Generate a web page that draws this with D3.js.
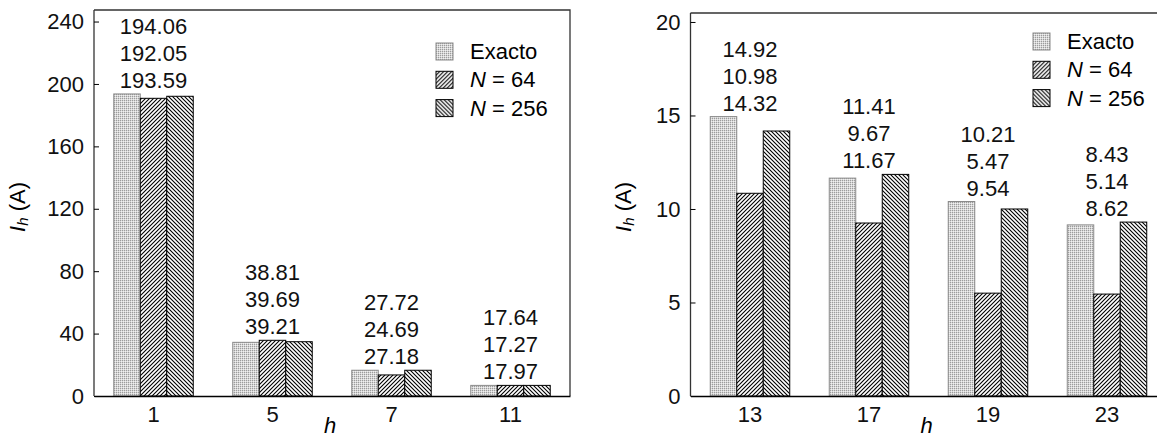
<!DOCTYPE html>
<html lang="en">
    <head>
        <meta charset="utf-8"/>
        <script src="https://d3js.org/d3.v7.min.js"></script>
        <style>
            body { margin: 0; background: #fff; }
            text { font-family: "Liberation Sans", Arial, sans-serif; }
        </style>
    </head>
    <body>
        <div id="chart"></div>
    </body>
    <script>
        // series names used by both panels
        var seriesNames = ["Exacto", "N = 64", "N = 256"];

        // left panel: low-order harmonics
        var harmonicsA = ["1", "5", "7", "11"];
        var exactoA = [193.6, 34.4, 16.5, 6.8];
        var n64A = [190.8, 35.7, 13.5, 6.8];
        var n256A = [192.1, 34.8, 16.5, 6.8];
        var labelsA = [
            ["194.06", "192.05", "193.59"],
            ["38.81", "39.69", "39.21"],
            ["27.72", "24.69", "27.18"],
            ["17.64", "17.27", "17.97"]
        ];
        var ticksA = [0, 40, 80, 120, 160, 200, 240];

        // right panel: higher harmonics
        var harmonicsB = ["13", "17", "19", "23"];
        var exactoB = [14.94, 11.65, 10.4, 9.15];
        var n64B = [10.84, 9.25, 5.5, 5.45];
        var n256B = [14.17, 11.85, 10.0, 9.3];
        var labelsB = [
            ["14.92", "10.98", "14.32"],
            ["11.41", "9.67", "11.67"],
            ["10.21", "5.47", "9.54"],
            ["8.43", "5.14", "8.62"]
        ];
        var ticksB = [0, 5, 10, 15, 20];

        var W = 1157, H = 439;
        var fontSize = 22;

        var svg = d3.select("#chart")
            .append("svg")
                .attr("width", W)
                .attr("height", H);

        // fill patterns
        var defs = svg.append("defs");

        var dots = defs.append("pattern")
            .attr("id", "pat0")
            .attr("patternUnits", "userSpaceOnUse")
            .attr("width", 2)
            .attr("height", 2);
        dots.append("rect").attr("width", 2).attr("height", 2).attr("fill", "#d6d6d6");
        dots.append("rect").attr("width", 1).attr("height", 1).attr("fill", "#9c9c9c");
        dots.append("rect").attr("x", 1).attr("y", 1).attr("width", 1).attr("height", 1).attr("fill", "#f0f0f0");

        var fwd = defs.append("pattern")
            .attr("id", "pat1")
            .attr("patternUnits", "userSpaceOnUse")
            .attr("width", 4)
            .attr("height", 4);
        fwd.append("rect").attr("width", 4).attr("height", 4).attr("fill", "#fff");
        fwd.append("path")
            .attr("d", "M-1,1 l2,-2 M0,4 l4,-4 M3,5 l2,-2")
            .attr("stroke", "#000")
            .attr("stroke-width", 1.1);

        var back = defs.append("pattern")
            .attr("id", "pat2")
            .attr("patternUnits", "userSpaceOnUse")
            .attr("width", 4)
            .attr("height", 4);
        back.append("rect").attr("width", 4).attr("height", 4).attr("fill", "#fff");
        back.append("path")
            .attr("d", "M-1,3 l2,2 M0,0 l4,4 M3,-1 l2,2")
            .attr("stroke", "#000")
            .attr("stroke-width", 1.1);

        var fills = ["url(#pat0)", "url(#pat1)", "url(#pat2)"];
        var strokes = ["#8a8a8a", "#000", "#000"];

        var panels = [
            { h: harmonicsA, vals: [exactoA, n64A, n256A], labels: labelsA, ticks: ticksA,
              left: 94, right: 570, top: 10, bottom: 396, yMax: 247.4,
              legendX: 436, legendY: 43, yLabelX: 17 },
            { h: harmonicsB, vals: [exactoB, n64B, n256B], labels: labelsB, ticks: ticksB,
              left: 690.5, right: 1166.5, top: 13, bottom: 396, yMax: 20.48,
              legendX: 1033, legendY: 33, yLabelX: 623 }
        ];

        panels.forEach(function (p) {
            var g = svg.append("g");

            var x = d3.scaleBand()
                .domain(p.h)
                .range([p.left, p.right])
                .paddingInner(0.332)
                .paddingOuter(0.166);

            var xs = d3.scaleBand()
                .domain(d3.range(seriesNames.length))
                .range([0, x.bandwidth()]);

            var y = d3.scaleLinear()
                .domain([0, p.yMax])
                .range([p.bottom, p.top]);

            // bars
            p.vals.forEach(function (vals, si) {
                g.selectAll(".bar" + si)
                    .data(vals)
                    .enter()
                    .append("rect")
                        .attr("x", function (d, i) { return x(p.h[i]) + xs(si); })
                        .attr("y", function (d) { return y(d); })
                        .attr("width", xs.bandwidth())
                        .attr("height", function (d) { return p.bottom - y(d); })
                        .attr("fill", fills[si])
                        .attr("stroke", strokes[si])
                        .attr("stroke-width", 1);
            });

            // value labels stacked above each group
            p.labels.forEach(function (lines, i) {
                var top = d3.min(p.vals, function (v) { return y(v[i]); });
                var t = g.append("text")
                    .attr("text-anchor", "middle")
                    .attr("font-size", fontSize)
                    .attr("fill", "#111");
                lines.forEach(function (s, k) {
                    t.append("tspan")
                        .attr("x", x(p.h[i]) + x.bandwidth() / 2)
                        .attr("y", top - 6 - (lines.length - 1 - k) * 27)
                        .text(s);
                });
            });

            // frame
            g.append("path")
                .attr("d", "M" + p.left + "," + p.top + "H" + p.right + "V" + p.bottom)
                .attr("fill", "none")
                .attr("stroke", "#333")
                .attr("stroke-width", 1.3);

            // axes
            var ya = g.append("g")
                .attr("transform", "translate(" + p.left + ",0)")
                .call(d3.axisLeft(y).tickValues(p.ticks).tickSizeInner(-5).tickSizeOuter(0).tickPadding(10));
            ya.select(".domain").attr("d", "M0," + p.top + "V" + p.bottom).attr("stroke", "#333").attr("stroke-width", 1.3);
            ya.selectAll("text").attr("font-size", fontSize).attr("font-family", "Liberation Sans, Arial, sans-serif").attr("fill", "#111");

            var xa = g.append("g")
                .attr("transform", "translate(0," + p.bottom + ")")
                .call(d3.axisBottom(x).tickSize(0).tickPadding(10));
            xa.select(".domain").attr("stroke", "#000").attr("stroke-width", 1.5);
            xa.selectAll("text").attr("font-size", fontSize).attr("font-family", "Liberation Sans, Arial, sans-serif").attr("fill", "#111");

            // axis titles
            g.append("text")
                .attr("x", (p.left + p.right) / 2 - 2)
                .attr("y", 433)
                .attr("text-anchor", "middle")
                .attr("font-size", fontSize)
                .attr("font-style", "italic")
                .text("h");

            var yl = g.append("text")
                .attr("transform", "translate(" + p.yLabelX + "," + 207 + ") rotate(-90)")
                .attr("text-anchor", "middle")
                .attr("dominant-baseline", "central")
                .attr("font-size", fontSize);
            yl.append("tspan").attr("font-style", "italic").text("I");
            yl.append("tspan").attr("font-style", "italic").attr("font-size", 15).attr("dy", 5).text("h");
            yl.append("tspan").attr("dy", -5).text(" (A)");

            // legend
            var lg = g.append("g")
                .attr("transform", "translate(" + p.legendX + "," + p.legendY + ")");
            seriesNames.forEach(function (name, si) {
                var row = lg.append("g").attr("transform", "translate(0," + si * 28.3 + ")");
                row.append("rect")
                    .attr("width", 17)
                    .attr("height", 17)
                    .attr("fill", fills[si])
                    .attr("stroke", strokes[si])
                    .attr("stroke-width", 1);
                var t = row.append("text")
                    .attr("x", 34)
                    .attr("y", 16)
                    .attr("font-size", fontSize);
                if (si === 0) {
                    t.text(name);
                } else {
                    t.append("tspan").attr("font-style", "italic").text("N");
                    t.append("tspan").text(name.slice(1));
                }
            });
        });
    </script>
</html>
